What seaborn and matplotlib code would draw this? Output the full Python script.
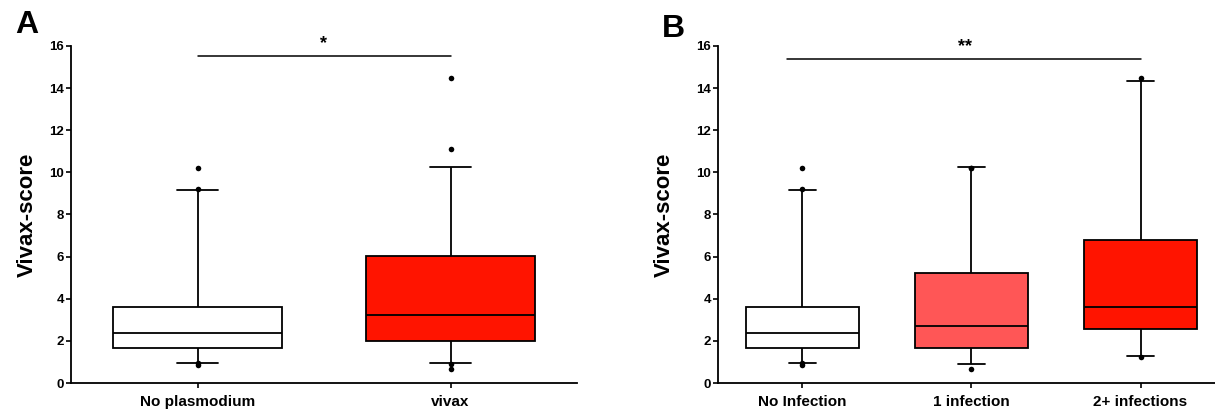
import matplotlib
matplotlib.use("Agg")
import matplotlib.pyplot as plt
import numpy as np
import pandas as pd
import seaborn as sns

# Panel A: five-number summaries (whisker low, Q1, median, Q3, whisker high)
groups_a = ['No plasmodium', 'vivax']
lo_a = [0.95, 0.95]
q1_a = [1.65, 1.98]
med_a = [2.37, 3.21]
q3_a = [3.62, 6.05]
hi_a = [9.14, 10.26]
colors_a = ['white', '#ff1400']
out_groups_a = ['No plasmodium'] * 4 + ['vivax'] * 4
out_values_a = [10.23, 9.2, 0.85, 0.97, 14.48, 11.1, 0.68, 0.9]

# Panel B
groups_b = ['No Infection', '1 infection', '2+ infections']
lo_b = [0.94, 0.92, 1.27]
q1_b = [1.65, 1.68, 2.56]
med_b = [2.37, 2.69, 3.59]
q3_b = [3.62, 5.22, 6.79]
hi_b = [9.14, 10.24, 14.35]
colors_b = ['white', '#ff5656', '#ff1400']
out_groups_b = ['No Infection'] * 4 + ['1 infection'] * 3 + ['2+ infections'] * 2
out_values_b = [10.23, 9.2, 0.85, 0.97, 10.22, 10.22, 0.68, 14.48, 1.22]

sns.set_theme(style='ticks')
plt.rcParams['font.family'] = ['Liberation Sans', 'DejaVu Sans']
plt.rcParams['font.weight'] = 'bold'
for key in ['text.color', 'axes.labelcolor', 'xtick.color', 'ytick.color', 'axes.edgecolor']:
    plt.rcParams[key] = 'black'


def draw_panel(ax, groups, lo, q1, med, q3, hi, colors, out_groups, out_values):
    # five values per group -> quartiles land exactly on q1/median/q3, whis=(0,100) hits lo/hi
    summary = np.column_stack([lo, q1, med, q3, hi]).ravel()
    df = pd.DataFrame({'group': np.repeat(groups, 5), 'value': summary})
    sns.boxplot(data=df, x='group', y='value', hue='group', order=groups,
                palette=dict(zip(groups, colors)), legend=False, whis=(0, 100),
                width=0.665, linecolor='black', linewidth=1.3, showfliers=False,
                capwidths=0.165, saturation=1, ax=ax)
    sns.stripplot(x=out_groups, y=out_values, order=groups, jitter=False,
                  color='black', size=4, ax=ax)
    ax.set_xlim(-0.5, len(groups) - 0.5)
    ax.set_ylim(0, 16)
    ax.set_yticks(range(0, 17, 2))
    ax.set_xlabel('')
    ax.set_ylabel('Vivax-score', fontsize=16, fontweight='bold')
    ax.tick_params(axis='y', labelsize=9.5, length=3.5, width=1.2, pad=1.5)
    ax.tick_params(axis='x', labelsize=11, length=3.5, width=1.2, pad=5)
    for lab in ax.get_xticklabels() + ax.get_yticklabels():
        lab.set_fontweight('bold')
    sns.despine(ax=ax)
    for side in ['left', 'bottom']:
        ax.spines[side].set_linewidth(1.3)
        ax.spines[side].set_color('black')


fig = plt.figure(figsize=(12.15, 4.11), dpi=100)
ax_a = fig.add_axes([71 / 1215, 28 / 411, 506 / 1215, 337 / 411])
ax_b = fig.add_axes([718 / 1215, 28 / 411, 507 / 1215, 337 / 411])

draw_panel(ax_a, groups_a, lo_a, q1_a, med_a, q3_a, hi_a, colors_a, out_groups_a, out_values_a)
draw_panel(ax_b, groups_b, lo_b, q1_b, med_b, q3_b, hi_b, colors_b, out_groups_b, out_values_b)

ax_a.yaxis.set_label_coords(-0.066, 0.5)
ax_b.yaxis.set_label_coords(-0.086, 0.5)

# significance brackets
ax_a.plot([0, 1], [15.53, 15.53], color='black', lw=1.1)
ax_a.text(0.5, 15.7, '*', ha='center', va='bottom', fontsize=13, fontweight='bold')
ax_b.plot([-0.09, 2], [15.4, 15.4], color='black', lw=1.1)
ax_b.text(0.96, 15.55, '**', ha='center', va='bottom', fontsize=13, fontweight='bold')

fig.text(15 / 1215, 1 - 33 / 411, 'A', fontsize=23, fontweight='bold', va='baseline')
fig.text(662 / 1215, 1 - 37 / 411, 'B', fontsize=23, fontweight='bold', va='baseline')

fig.savefig('out.png', dpi=100)
